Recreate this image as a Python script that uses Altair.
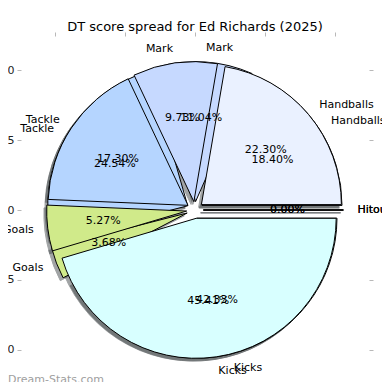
import altair as alt
import pandas as pd

categories = ["Handballs", "Mark", "Tackle", "Goals", "Kicks", "Hitout"]
share_front = [22.30, 9.73, 17.30, 5.27, 45.41, 0.00]
share_back = [18.40, 11.04, 24.54, 3.68, 42.33, 0.00]
colors = ["#eaf1ff", "#c6d9ff", "#b5d5ff", "#d0ea8a", "#d8ffff", "#ffffff"]
tick_values = [-1.0, -0.5, 0.0, 0.5, 1.0]
title_text = "DT score spread for Ed Richards (2025)"
watermark = "Dream-Stats.com"

EXPLODE = 0.06
LIM = 1.243
W = 348
H = 346
R = W / (2 * LIM)
FONT = "DejaVu Sans"

rows = []
for pie, vals in ((0, share_back), (1, share_front)):
    for i, (c, v) in enumerate(zip(categories, vals)):
        rows.append({"pie": pie, "idx": i, "cat": c, "v": v})
df = pd.DataFrame(rows)

xs = alt.Scale(domain=[-LIM, LIM], nice=False, zero=False)
ys = alt.Scale(domain=[LIM - H / R, LIM], nice=False, zero=False)
col = alt.Color("cat:N", scale=alt.Scale(domain=categories, range=colors), legend=None)

base = (
    alt.Chart(df)
    .transform_joinaggregate(total="sum(v)", groupby=["pie"])
    .transform_window(cum="sum(v)", sort=[alt.SortField("idx")], groupby=["pie"], frame=[None, 0])
    .transform_calculate(a1="2*PI*(datum.cum-datum.v)/datum.total")
    .transform_calculate(a2="2*PI*datum.cum/datum.total")
    .transform_calculate(mid="(datum.a1+datum.a2)/2")
    .transform_calculate(t1="2.5*PI-datum.a2")
    .transform_calculate(t2="2.5*PI-datum.a1")
    .transform_calculate(cx=f"{EXPLODE}*cos(datum.mid)")
    .transform_calculate(cy=f"{EXPLODE}*sin(datum.mid)")
    .transform_calculate(sx="datum.cx-0.02")
    .transform_calculate(sy="datum.cy-0.02")
    .transform_calculate(lx=f"({EXPLODE}+1.1)*cos(datum.mid)")
    .transform_calculate(ly=f"({EXPLODE}+1.1)*sin(datum.mid)")
    .transform_calculate(px=f"({EXPLODE}+0.6)*cos(datum.mid)")
    .transform_calculate(py=f"({EXPLODE}+0.6)*sin(datum.mid)")
    .transform_calculate(pct="format(100*datum.v/datum.total,'.2f')+'%'")
)

axis_common = dict(
    values=tick_values, format=".1f", domain=False, grid=False,
    tickColor="#b8b8b8", tickSize=4, labelFont=FONT, labelFontSize=11,
    labelColor="#222222", labelPadding=3, title=None,
)

shadow = base.mark_arc(outerRadius=R, color="#454b4d", opacity=0.5, stroke="#454b4d", strokeWidth=1).encode(
    x=alt.X("sx:Q", scale=xs, axis=alt.Axis(orient="bottom", **axis_common)),
    y=alt.Y("sy:Q", scale=ys, axis=alt.Axis(orient="left", **axis_common)),
    theta=alt.Theta("t1:Q", scale=None),
    theta2="t2:Q",
)

def wedges(pie, with_axes=False):
    if with_axes:
        ax_x = alt.Axis(orient="top", labels=False, **axis_common)
        ax_y = alt.Axis(orient="right", labels=False, **axis_common)
    else:
        ax_x = None
        ax_y = None
    return base.transform_filter(f"datum.pie=={pie}").mark_arc(
        outerRadius=R, stroke="black", strokeWidth=1
    ).encode(
        x=alt.X("cx:Q", scale=xs, axis=ax_x),
        y=alt.Y("cy:Q", scale=ys, axis=ax_y),
        theta=alt.Theta("t1:Q", scale=None),
        theta2="t2:Q",
        color=col,
    )

def labels(cond, align):
    return base.transform_filter(cond).mark_text(
        align=align, baseline="middle", font=FONT, fontSize=11, color="black"
    ).encode(
        x=alt.X("lx:Q", scale=xs, axis=None),
        y=alt.Y("ly:Q", scale=ys, axis=None),
        text="cat:N",
    )

pcts = base.mark_text(align="center", baseline="middle", font=FONT, fontSize=11, color="black").encode(
    x=alt.X("px:Q", scale=xs, axis=None),
    y=alt.Y("py:Q", scale=ys, axis=None),
    text="pct:N",
)

wm = alt.Chart(pd.DataFrame({"t": [watermark]})).mark_text(
    align="left", baseline="middle", font=FONT, fontSize=11, color="#a0a0a0"
).encode(x=alt.value(-13), y=alt.value(344), text="t:N")

chart = (
    alt.layer(
        shadow,
        wedges(0, with_axes=True),
        wedges(1),
        labels("cos(datum.mid) > 0", "left"),
        labels("cos(datum.mid) <= 0", "right"),
        pcts,
        wm,
    )
    .resolve_axis(x="independent", y="independent")
    .properties(
        width=W, height=H,
        title=alt.TitleParams(title_text, font=FONT, fontSize=13, fontWeight="normal",
                              anchor="middle", color="black", offset=-2),
        autosize=alt.AutoSizeParams(type="none"),
        padding={"left": 13, "top": 28, "right": 13, "bottom": 0},
    )
    .configure_view(stroke=None)
)

chart.save("out.html", embed_options={"renderer": "svg", "actions": False})
